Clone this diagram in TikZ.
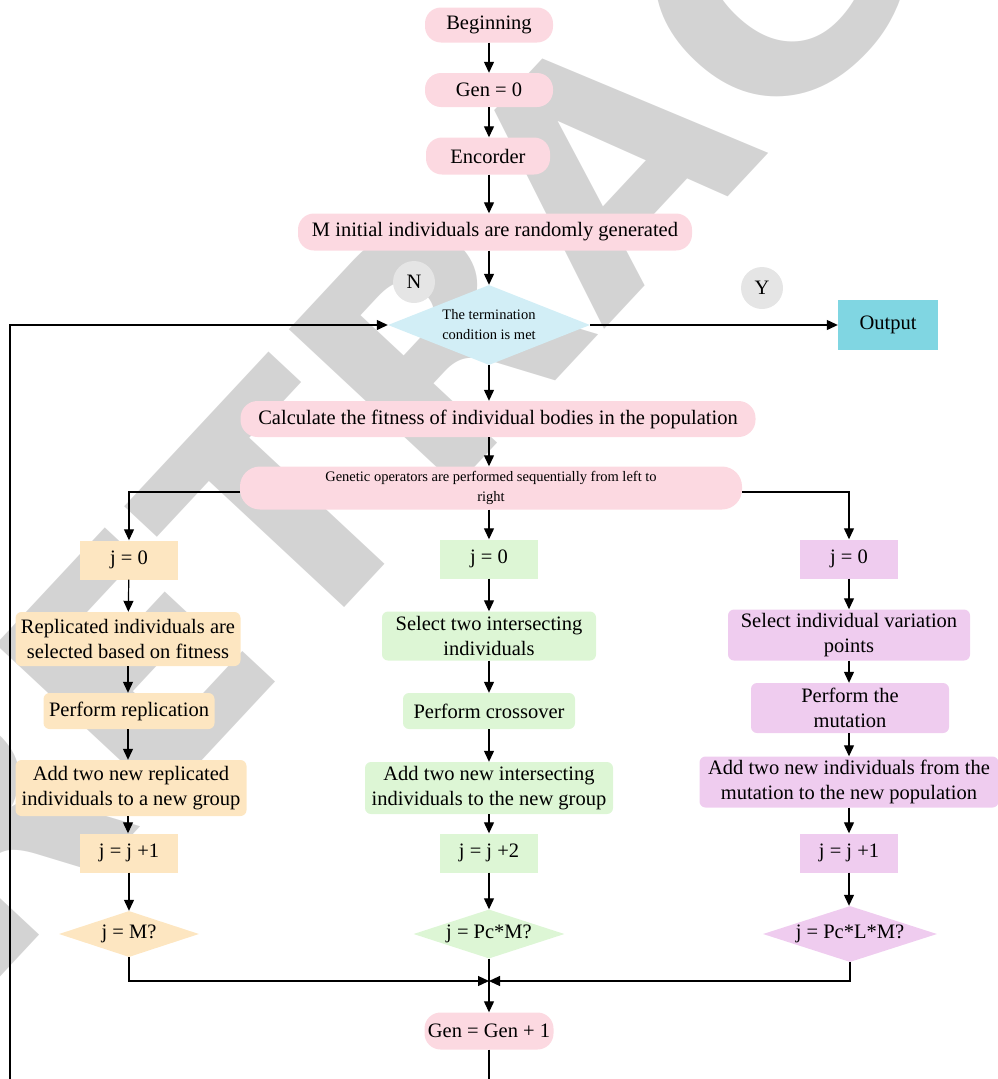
\documentclass[tikz,border=0pt]{standalone}
\usepackage{fontspec}
\setmainfont{Liberation Serif}
\newfontfamily\wmfam{DejaVu Sans}
\usetikzlibrary{shapes.geometric,arrows.meta}
\definecolor{pinkc}{RGB}{252,217,225}
\definecolor{orangec}{RGB}{253,230,193}
\definecolor{greenc}{RGB}{221,246,213}
\definecolor{purplec}{RGB}{239,204,239}
\definecolor{cyanl}{RGB}{210,238,246}
\definecolor{outc}{RGB}{128,214,226}
\definecolor{circg}{RGB}{229,229,229}
\definecolor{wmg}{RGB}{211,211,211}
\newcommand{\mainfs}{\fontsize{20.5}{25}\selectfont}
\newcommand{\smallfs}{\fontsize{14.5}{20}\selectfont}
\tikzset{
  base/.style={inner sep=0pt, align=center, font=\mainfs, text=black},
  pill/.style={base, fill=pinkc, rounded corners=16pt},
  obox/.style={base, fill=orangec, rounded corners=6pt},
  gbox/.style={base, fill=greenc, rounded corners=6pt},
  pbox/.style={base, fill=purplec, rounded corners=6pt},
  ojbox/.style={base, fill=orangec, minimum width=98, minimum height=39},
  gjbox/.style={base, fill=greenc, minimum width=98, minimum height=39},
  pjbox/.style={base, fill=purplec, minimum width=98, minimum height=39},
  dia/.style={base, diamond, shape aspect=2.8},
  lbl/.style={base, circle, fill=circg, minimum size=42},
  arr/.style={-{Triangle[length=11pt,width=10pt]}, line width=1.2pt, draw=black},
  ln/.style={line width=1.2pt, draw=black}
}
\begin{document}
\begin{tikzpicture}[x=1pt,y=-1pt]
\useasboundingbox (0,0) rectangle (998,1079);
\begin{scope}
\clip (0,0) rectangle (998,1079);
% watermark
\node[text=wmg, font={\wmfam\bfseries\fontsize{315}{315}\selectfont}, rotate=47, inner sep=0pt] (wm) at (605,160) {RETRACTED};

% main column
\node[pill, minimum width=128, minimum height=35] (begin) at (489,25) {Beginning};
\node[pill, minimum width=128, minimum height=34] (gen0) at (489,90) {Gen = 0};
\node[pill, minimum width=124, minimum height=37] (enc) at (488,156) {Encorder};
\node[pill, minimum width=394, minimum height=37] (minit) at (495,232) {M initial individuals are randomly generated};
\node[dia, fill=cyanl, minimum width=202, minimum height=80, font=\smallfs] (term) at (489,325) {The termination\\condition is met};
\node[lbl] (ncirc) at (414,282) {N};
\node[lbl] (ycirc) at (762,288) {Y};
\node[base, fill=outc, minimum width=100, minimum height=50] (output) at (888,325) {Output};
\node[pill, minimum width=515, minimum height=36, rounded corners=17pt] (calc) at (498,419) {Calculate the fitness of individual bodies in the population};
\node[pill, minimum width=502, minimum height=43, rounded corners=20pt, font=\smallfs] (genop) at (491,488) {Genetic operators are performed sequentially from left to\\right};

% left column
\node[ojbox] (lj0) at (129,560) {j = 0};
\node[obox, minimum width=225, minimum height=54] (lsel) at (128,639) {Replicated individuals are\\selected based on fitness};
\node[obox, minimum width=171, minimum height=36] (lperf) at (129,711) {Perform replication};
\node[obox, minimum width=231, minimum height=56] (ladd) at (131,788) {Add two new replicated\\individuals to a new group};
\node[ojbox] (linc) at (129,853) {j = j +1};
\node[dia, fill=orangec, minimum width=140, minimum height=46, shape aspect=3] (ldia) at (129,934) {j = M?};

% middle column
\node[gjbox] (mj0) at (489,559) {j = 0};
\node[gbox, minimum width=214, minimum height=49] (msel) at (489,636) {Select two intersecting\\individuals};
\node[gbox, minimum width=172, minimum height=36] (mperf) at (489,711) {Perform crossover};
\node[gbox, minimum width=248, minimum height=52] (madd) at (489,788) {Add two new intersecting\\individuals to the new group};
\node[gjbox] (minc) at (489,853) {j = j +2};
\node[dia, fill=greenc, minimum width=151, minimum height=49, shape aspect=3] (mdia) at (489,934) {j = Pc*M?};

% right column
\node[pjbox] (rj0) at (849,559) {j = 0};
\node[pbox, minimum width=242, minimum height=51] (rsel) at (849,635) {Select individual variation\\points};
\node[pbox, minimum width=198, minimum height=50] (rperf) at (850,708) {Perform the\\mutation};
\node[pbox, minimum width=299, minimum height=51] (radd) at (849,782) {Add two new individuals from the\\mutation to the new population};
\node[pjbox] (rinc) at (849,853) {j = j +1};
\node[dia, fill=purplec, minimum width=174, minimum height=56, shape aspect=3] (rdia) at (850,934) {j = Pc*L*M?};

\node[pill, minimum width=129, minimum height=37] (gen1) at (489,1031) {Gen = Gen + 1};

\coordinate (merge) at (489,981);
\coordinate (loopR) at (489,1120);
\coordinate (loopL) at (10,1120);

% connectors
\draw[arr] (begin) -- (gen0);
\draw[arr] (gen0) -- (enc.north -| gen0);
\draw[arr] (enc.south -| gen0) -- (minit.north -| gen0);
\draw[arr] (minit.south -| term) -- (term.north);
\draw[arr] (term.east) -- (output.west);
\draw[arr] (term.south) -- (calc.north -| term);
\draw[arr] (calc.south -| term) -- (genop.north -| term);
\draw[arr] (genop.south -| mj0) -- (mj0.north);
\draw[arr] ([yshift=-4pt]genop.west) -| (lj0.north);
\draw[arr] ([yshift=-4pt]genop.east) -| (rj0.north);

\draw[arr] (lj0) -- (lsel);
\draw[arr] (lsel) -- (lperf.north -| lsel);
\draw[arr] (lperf.south -| lsel) -- (ladd.north -| lsel);
\draw[arr] (ladd.south -| lsel) -- (linc.north -| lsel);
\draw[arr] (linc) -- (ldia);

\draw[arr] (mj0) -- (msel);
\draw[arr] (msel) -- (mperf);
\draw[arr] (mperf) -- (madd);
\draw[arr] (madd) -- (minc);
\draw[arr] (minc) -- (mdia);

\draw[arr] (rj0) -- (rsel.north -| rj0);
\draw[arr] (rsel.south -| rj0) -- (rperf.north -| rj0);
\draw[arr] (rperf.south -| rj0) -- (radd.north -| rj0);
\draw[arr] (radd.south -| rj0) -- (rinc.north);
\draw[arr] (rinc) -- (rdia.north -| rinc);

\draw[arr] (ldia.south) |- (merge);
\draw[arr] (rdia.south) |- (merge);
\draw[arr] (mdia.south) -- (gen1.north);
\draw[arr] (gen1.south) -- (loopR) -- (loopL) |- (term.west);
\end{scope}
\end{tikzpicture}
\end{document}
